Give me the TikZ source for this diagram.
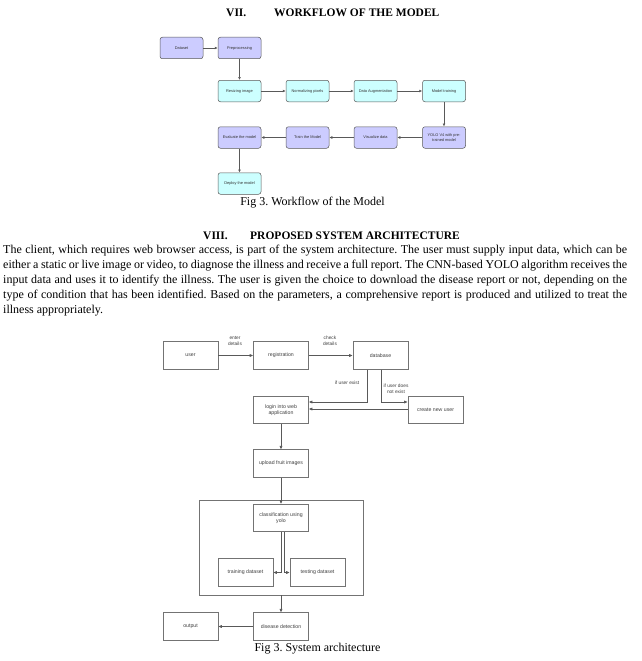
\documentclass[tikz,border=0pt]{standalone}
\usepackage{fontspec}
\setmainfont{Liberation Serif}
\newfontfamily\boxfont{Liberation Sans}
\usetikzlibrary{arrows.meta}
\definecolor{lav}{HTML}{CCCCFF}
\definecolor{cyn}{HTML}{CCFFFF}
\begin{document}
\frenchspacing
\begin{tikzpicture}[x=1pt,y=-1pt,
  wfbox/.style={draw=black!65, line width=0.5pt, rounded corners=2.5pt, minimum width=43pt, minimum height=21.5pt, inner sep=0pt, align=center, font=\boxfont\fontsize{3.9}{4.7}\selectfont, text=black!80},
  lavbox/.style={wfbox, fill=lav},
  cynbox/.style={wfbox, fill=cyn},
  wfarrow/.style={draw=black!65, line width=0.5pt, -{Latex[length=3pt,width=2.8pt]}},
  sabox/.style={draw=black!55, line width=0.6pt, minimum width=55pt, minimum height=27.5pt, inner sep=0pt, align=center, font=\boxfont\fontsize{5.2}{6.4}\selectfont, text=black!75},
  saarrow/.style={draw=black!65, line width=0.6pt, -{Latex[length=3.5pt,width=3.2pt]}},
  salbl/.style={inner sep=0pt, align=center, font=\boxfont\fontsize{4.8}{6.2}\selectfont, text=black!75},
  headfont/.style={inner sep=0pt, font=\fontsize{11.5}{13}\selectfont\bfseries},
  capfont/.style={inner sep=0pt, font=\fontsize{12}{14}\selectfont}
]
\useasboundingbox[fill=white] (0,0) rectangle (641,661);

% ---- heading VII
\node[headfont, anchor=base west] (h7n) at (226,17) {VII.};
\node[headfont, anchor=base west] (h7t) at (274,17) {WORKFLOW OF THE MODEL};

% ---- workflow
\node[lavbox] (dataset) at (181.5,48) {Dataset};
\node[lavbox] (prep) at (239.5,48) {Preprocessing};
\node[cynbox] (resize) at (239.5,91) {Resizing image};
\node[cynbox] (norm) at (307.5,91) {Normalizing pixels};
\node[cynbox] (aug) at (375.5,91) {Data Augmentation};
\node[cynbox] (mtrain) at (444,91) {Model training};
\node[lavbox] (yolo) at (444,137.5) {YOLO V4 with pre-\\trained model};
\node[lavbox] (vis) at (375.5,137.5) {Visualize data};
\node[lavbox] (trainm) at (307.5,137.5) {Train the Model};
\node[lavbox] (eval) at (239.5,137.5) {Evaluate the model};
\node[cynbox] (deploy) at (239.5,183.5) {Deploy the model};

\draw[wfarrow] (dataset) -- (prep);
\draw[wfarrow] (prep) -- (resize);
\draw[wfarrow] (resize) -- (norm);
\draw[wfarrow] (norm) -- (aug);
\draw[wfarrow] (aug) -- (mtrain);
\draw[wfarrow] (mtrain) -- (yolo);
\draw[wfarrow] (yolo) -- (vis);
\draw[wfarrow] (vis) -- (trainm);
\draw[wfarrow] (trainm) -- (eval);
\draw[wfarrow] (eval) -- (deploy);

\node[capfont] (cap1) at (312.5,203) {Fig 3. Workflow of the Model};

% ---- heading VIII
\node[headfont, anchor=base west] (h8n) at (203,239) {VIII.};
\node[headfont, anchor=base west] (h8t) at (250,239) {PROPOSED SYSTEM ARCHITECTURE};

\node[inner sep=0pt, anchor=base west] (para) at (3,253) {\parbox[t]{624pt}{\fontsize{12}{15}\selectfont\frenchspacing
The client, which requires web browser access, is part of the system architecture. The user must supply input data, which can be\linebreak
either a static or live image or video, to diagnose the illness and receive a full report. The CNN-based YOLO algorithm receives the\linebreak
input data and uses it to identify the illness. The user is given the choice to download the disease report or not, depending on the\linebreak
type of condition that has been identified. Based on the parameters, a comprehensive report is produced and utilized to treat the\linebreak
illness appropriately.}};

% ---- system architecture
\node[sabox] (user) at (190.5,355.5) {user};
\node[sabox] (reg) at (281,355.5) {registration};
\node[sabox] (db) at (380.5,355.5) {database};
\node[sabox] (login) at (281,410) {login into web\\application};
\node[sabox] (newuser) at (435.5,410) {create new user};
\node[sabox] (upload) at (281,463.5) {upload fruit images};
\node[draw=black!55, line width=0.6pt, minimum width=164pt, minimum height=95pt, inner sep=0pt] (cont) at (281,547.5) {};
\node[sabox] (cls) at (281,518) {classification using\\yolo};
\node[sabox] (trainds) at (245.5,572.5) {training dataset};
\node[sabox] (testds) at (317.5,572.5) {testing dataset};
\node[sabox] (detect) at (281,626.5) {disease detection};
\node[sabox] (output) at (190.5,626.5) {output};

\node[salbl] (l1) at (235,341) {enter\\details};
\node[salbl] (l2) at (330,341) {check\\details};
\node[salbl] (l3) at (347,383) {if user exist};
\node[salbl] (l4) at (396,389) {if user does\\not exist};

\draw[saarrow] (user) -- (reg);
\draw[saarrow] (reg) -- (db);
\draw[saarrow] ([xshift=-13.5pt]db.south) |- ([yshift=8pt]login.east);
\draw[saarrow] ([xshift=0.5pt]db.south) |- ([yshift=8pt]newuser.west);
\draw[saarrow] ([yshift=1pt]newuser.west) -- ([yshift=1pt]login.east);
\draw[saarrow] (login) -- (upload);
\draw[saarrow] (upload) -- (cls);
\draw[saarrow] (cls.south) |- (trainds.east);
\draw[saarrow] ([xshift=3.5pt]cls.south) |- (testds.west);
\draw[saarrow] (cont.south) -- (detect.north);
\draw[saarrow] (detect) -- (output);

\node[capfont] (cap2) at (317.5,649) {Fig 3. System architecture};
\end{tikzpicture}
\end{document}
